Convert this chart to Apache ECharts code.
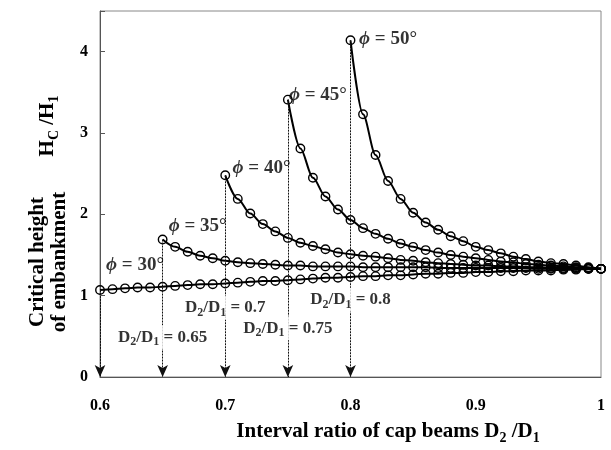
<!DOCTYPE html>
<html>
<head>
<meta charset="utf-8">
<script src="https://cdn.jsdelivr.net/npm/echarts@6/dist/echarts.min.js"></script>
<style>html,body{margin:0;padding:0;background:#fff;}#c{width:611px;height:450px;}</style>
</head>
<body>
<div id="c"></div>
<script>
// ---- data ----
const ratios = ['0.60','0.61','0.62','0.63','0.64','0.65','0.66','0.67','0.68','0.69','0.70',
  '0.71','0.72','0.73','0.74','0.75','0.76','0.77','0.78','0.79','0.80',
  '0.81','0.82','0.83','0.84','0.85','0.86','0.87','0.88','0.89','0.90',
  '0.91','0.92','0.93','0.94','0.95','0.96','0.97','0.98','0.99','1.00'];
const phi30 = [1.07,1.08,1.09,1.10,1.10,1.11,1.12,1.13,1.14,1.14,1.15,1.16,1.17,1.18,1.18,1.19,1.20,1.21,1.22,1.22,1.23,
  1.24,1.24,1.25,1.25,1.26,1.27,1.27,1.28,1.28,1.29,1.29,1.30,1.30,1.31,1.31,1.31,1.32,1.32,1.33,1.33];
const phi35 = [1.69,1.60,1.54,1.49,1.46,1.43,1.41,1.40,1.39,1.38,1.37,1.37,1.36,1.36,1.36,1.36,1.35,1.35,1.35,1.35,
  1.35,1.35,1.34,1.34,1.34,1.34,1.34,1.34,1.34,1.34,1.33,1.33,1.33,1.33,1.33,1.33];
const phi40 = [2.48,2.19,2.01,1.88,1.79,1.71,1.65,1.61,1.57,1.53,1.51,1.49,1.48,1.46,1.44,1.43,1.41,1.40,1.39,1.38,
  1.37,1.37,1.36,1.36,1.35,1.35,1.34,1.34,1.34,1.33,1.33];
const phi45 = [3.41,2.81,2.45,2.22,2.06,1.93,1.83,1.76,1.70,1.64,1.60,1.56,1.53,1.50,1.48,1.46,1.44,1.42,1.41,1.39,
  1.38,1.37,1.36,1.35,1.34,1.33];
const phi50 = [4.14,3.23,2.73,2.41,2.19,2.02,1.90,1.81,1.73,1.67,1.60,1.56,1.52,1.48,1.45,1.42,1.40,1.39,1.37,1.35,1.33];
const seriesNames = ['ϕ = 30°','ϕ = 35°','ϕ = 40°','ϕ = 45°','ϕ = 50°'];
const startRatios = ['0.60','0.65','0.70','0.75','0.80'];
const startLabels = ['', '0.65', '0.7', '0.75', '0.8'];
const xTicks = ['0.6','0.7','0.8','0.9','1'];
const yTicks = ['0','1','2','3','4'];
// label anchor positions (data coords)
const phiLabelPos = [[0.628,1.38],[0.678,1.86],[0.729,2.57],[0.774,3.47],[0.830,4.15]];
const ratioLabelPos = [[0.65,0.49],[0.70,0.85],[0.75,0.60],[0.80,0.95]];

const FONT = '"Liberation Serif","Times New Roman",serif';
const allSeries = [phi30, phi35, phi40, phi45, phi50];

function pairs(vals, start) {
  const i0 = ratios.indexOf(start);
  return vals.map((v, i) => [parseFloat(ratios[i0 + i]), v]);
}

const series = allSeries.map((vals, k) => {
  const x0 = parseFloat(startRatios[k]);
  return {
    name: seriesNames[k],
    type: 'line',
    data: pairs(vals, startRatios[k]),
    smooth: 0.3,
    smoothMonotone: 'x',
    symbol: 'circle',
    symbolSize: 8.5,
    showAllSymbol: true,
    itemStyle: { color: 'rgba(255,255,255,0)', borderColor: '#000', borderWidth: 1.4 },
    lineStyle: { color: '#000', width: 2 },
    z: 3,
    markLine: {
      silent: true,
      symbol: ['none', 'arrow'],
      symbolSize: [8, 12],
      label: { show: false },
      lineStyle: { color: '#111', width: 1, type: [2, 1] },
      data: [[{ coord: [x0, vals[0]] }, { coord: [x0, 0] }]]
    }
  };
});

const rich = {
  b: { fontFamily: FONT, fontWeight: 'bold', fontSize: 17, color: '#000', lineHeight: 22 },
  s: { fontFamily: FONT, fontWeight: 'bold', fontSize: 12, color: '#000', verticalAlign: 'bottom', lineHeight: 22 },
  pb: { fontFamily: FONT, fontWeight: 'bold', fontSize: 19, color: '#000', lineHeight: 22 },
  p: { fontFamily: FONT, fontWeight: 'bold', fontStyle: 'italic', fontSize: 19, color: '#000', lineHeight: 22 }
};

series.push({
  type: 'scatter',
  symbolSize: 0,
  silent: true,
  z: 10,
  data: ratioLabelPos.map((p, i) => ({ value: p, lbl: startLabels[i + 1] })),
  label: {
    show: true,
    position: 'inside',
    backgroundColor: '#fff',
    padding: [1, 1],
    formatter: (p) => '{b|D}{s|2}{b|/D}{s|1}{b| = ' + p.data.lbl + '}',
    rich: rich
  }
});
series.push({
  type: 'scatter',
  symbolSize: 0,
  silent: true,
  z: 10,
  data: phiLabelPos.map((p, i) => ({ value: p, lbl: seriesNames[i] })),
  label: {
    show: true,
    position: 'inside',
    formatter: (p) => '{p|ϕ}{pb|' + p.data.lbl.slice(1) + '}',
    rich: rich
  }
});

const sub = { fontFamily: FONT, fontWeight: 'bold', fontSize: 14, verticalAlign: 'bottom', lineHeight: 27 };
const chart = echarts.init(document.getElementById('c'));
chart.setOption({
  animation: false,
  backgroundColor: '#fff',
  grid: { left: 100, right: 10, top: 11, bottom: 73, show: true, borderColor: '#888', borderWidth: 1 },
  xAxis: {
    type: 'value', min: 0.6, max: 1, interval: 0.1,
    axisLine: { show: true, lineStyle: { color: '#555', width: 1 } },
    axisTick: { show: false },
    splitLine: { show: false },
    axisLabel: {
      margin: 21, color: '#000', fontFamily: FONT, fontWeight: 'bold', fontSize: 16,
      formatter: (v) => { const i = Math.round((v - 0.6) * 10); return xTicks[i] || ''; }
    }
  },
  yAxis: {
    type: 'value', min: 0, max: 4.5, interval: 1,
    axisLine: { show: true, lineStyle: { color: '#555', width: 1 } },
    axisTick: { show: true, inside: true, length: 5, lineStyle: { color: '#555' } },
    splitLine: { show: false },
    axisLabel: {
      margin: 12, color: '#000', fontFamily: FONT, fontWeight: 'bold', fontSize: 16,
      formatter: (v) => (Number.isInteger(v) ? yTicks[v] : '')
    }
  },
  graphic: [
    { type: 'text', x: 388, y: 432, style: { text: 'Interval ratio of cap beams D{s|2} /D{s|1}', align: 'center', verticalAlign: 'middle',
        fontFamily: FONT, fontWeight: 'bold', fontSize: 21, fill: '#000', rich: { s: sub } } },
    { type: 'text', x: 38, y: 262, rotation: Math.PI / 2, style: { text: 'Critical height', align: 'center', verticalAlign: 'middle',
        fontFamily: FONT, fontWeight: 'bold', fontSize: 21, fill: '#000' } },
    { type: 'text', x: 60, y: 262, rotation: Math.PI / 2, style: { text: 'of embankment', align: 'center', verticalAlign: 'middle',
        fontFamily: FONT, fontWeight: 'bold', fontSize: 21, fill: '#000' } },
    { type: 'text', x: 48, y: 126, rotation: Math.PI / 2, style: { text: 'H{s|C} /H{s|1}', align: 'center', verticalAlign: 'middle',
        fontFamily: FONT, fontWeight: 'bold', fontSize: 21, fill: '#000', rich: { s: sub } } }
  ],
  series: series
});
</script>
</body>
</html>
